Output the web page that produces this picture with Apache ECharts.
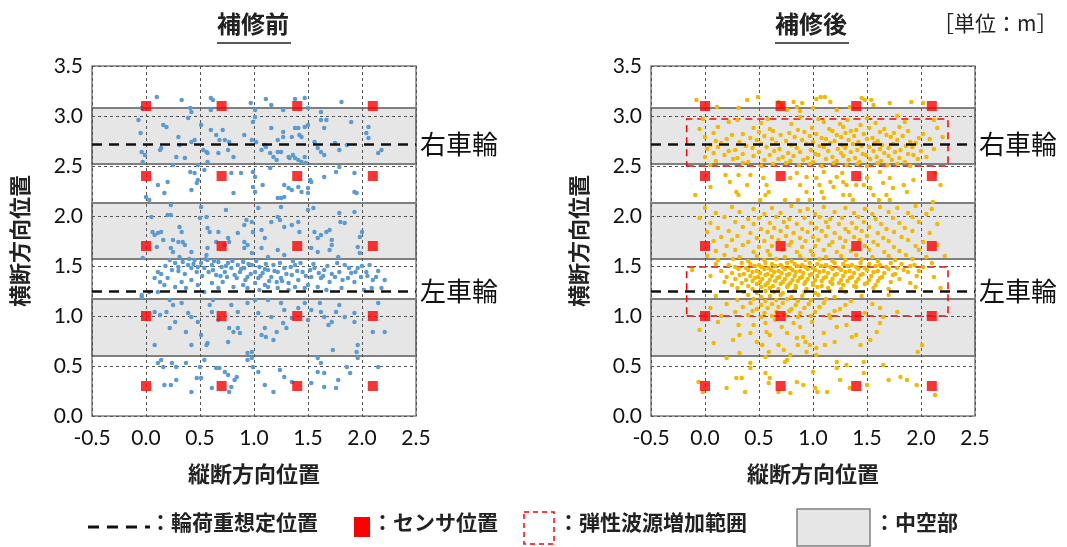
<!DOCTYPE html>
<html><head><meta charset="utf-8">
<script src="https://cdn.jsdelivr.net/npm/echarts@6/dist/echarts.min.js"></script>
<style>html,body{margin:0;padding:0;background:#fff}#c{width:1067px;height:547px}</style>
</head><body><div id="c"></div>
<script>
// ---- data ----
const xTicks = [-0.5, 0, 0.5, 1.0, 1.5, 2.0, 2.5];
const yTicks = [0, 0.5, 1.0, 1.5, 2.0, 2.5, 3.0, 3.5];
const sensorX = [0, 0.7, 1.4, 2.1];
const sensorY = [0.3, 1.0, 1.7, 2.4, 3.1];
const hollowBands = [[0.60, 1.17], [1.57, 2.13], [2.52, 3.08]];
const wheelLines = [{ y: 2.72, name: '右車輪' }, { y: 1.25, name: '左車輪' }];
const increaseRanges = [[-0.17, 2.25, 1.0, 1.49], [-0.17, 2.25, 2.5, 2.97]];
const chartTitles = ['補修前', '補修後'];

const beforePoints = [
[0.10,3.19],[0.33,3.16],[0.60,3.18],[0.62,3.16],[0.60,3.06],[0.41,3.08],[0.97,3.13],[1.01,3.06],[1.11,3.17],[1.16,3.11],[1.27,3.06],[1.38,3.17],[1.47,3.18],[1.50,3.08],[1.62,3.04],[1.81,3.14],[-0.04,3.08],
[-0.07,2.96],[0.16,2.91],[0.19,2.89],[0.39,2.98],[0.42,3.04],[0.51,2.91],[0.60,2.86],[0.65,2.81],[0.71,2.86],[0.68,2.76],[0.73,2.76],[0.77,2.74],[1.01,2.99],[0.99,2.94],[0.98,2.76],[1.02,2.74],[1.16,2.88],[1.27,2.84],[1.27,2.79],[1.38,2.88],[1.41,2.88],[1.47,2.89],[1.50,2.91],[1.42,2.81],[1.44,2.79],[1.22,2.76],[1.35,2.79],[1.62,2.96],[1.67,2.96],[1.65,2.88],[1.90,2.94],[2.06,2.89],[2.04,2.83],[2.06,2.78],
[-0.05,2.83],[-0.04,2.64],[-0.01,2.61],[-0.03,2.54],[0.13,2.66],[0.14,2.68],[0.30,2.79],[0.31,2.71],[0.28,2.59],[0.36,2.58],[0.42,2.74],[0.45,2.76],[0.53,2.66],[0.56,2.64],[0.57,2.63],[0.57,2.54],[0.67,2.63],[0.76,2.66],[0.81,2.59],[0.91,2.81],[1.07,2.66],[1.10,2.71],[1.11,2.69],[1.15,2.63],[1.18,2.59],[1.21,2.56],[1.22,2.64],[1.25,2.64],[1.32,2.59],[1.33,2.58],[1.36,2.61],[1.38,2.58],[1.41,2.56],[1.44,2.54],[1.47,2.59],[1.48,2.53],[1.56,2.74],[1.59,2.68],[1.62,2.64],[1.65,2.61],[1.75,2.73],[1.79,2.66],[1.86,2.71],[2.18,2.66],[2.15,2.63],[0.25,2.51],[0.48,2.51],
[0.41,2.44],[0.45,2.43],[0.48,2.36],[0.47,2.33],[0.42,2.26],[0.11,2.31],[0.20,2.34],[0.17,2.23],[0.00,2.19],[0.03,2.16],[0.54,2.46],[0.79,2.43],[0.81,2.23],[0.88,2.43],[0.99,2.44],[1.01,2.39],[0.99,2.29],[1.01,2.24],[1.08,2.31],[1.15,2.48],[1.22,2.18],[1.25,2.18],[1.28,2.19],[1.28,2.31],[1.32,2.28],[1.35,2.26],[1.41,2.29],[1.44,2.24],[1.50,2.23],[1.50,2.28],[1.52,2.36],[1.53,2.34],[1.65,2.39],[1.76,2.44],[1.79,2.49],[1.93,2.43],[1.93,2.24],[1.95,2.23],
[0.05,1.99],[0.06,1.84],[0.08,1.81],[0.11,1.83],[0.14,1.84],[0.16,1.76],[0.20,2.01],[0.23,2.01],[0.31,1.89],[0.33,1.84],[0.34,1.74],[0.36,1.71],[0.23,2.11],[0.51,2.09],[0.50,1.98],[0.56,1.99],[0.57,1.88],[0.67,1.84],[0.74,2.06],[0.76,1.78],[0.77,1.74],[0.73,1.71],[0.85,1.83],[0.91,1.91],[0.93,1.96],[0.98,1.94],[0.99,1.84],[1.04,2.08],[1.07,1.86],[1.10,1.78],[1.16,1.94],[1.22,1.99],[1.24,1.96],[1.25,2.09],[1.28,1.89],[1.35,1.91],[1.41,1.94],[1.42,1.84],[1.50,2.06],[1.55,2.08],[1.56,1.84],[1.59,1.78],[1.62,1.81],[1.67,1.84],[1.72,1.71],[1.79,2.03],[1.80,1.94],[1.84,1.93],[1.93,2.04],[2.00,1.84],[1.98,1.79],[1.72,1.76],[1.70,1.86],[0.25,1.76],[0.30,1.74],[0.59,1.84],[0.65,1.74],[0.91,1.74],[0.94,1.71],
[0.10,1.69],[0.23,1.68],[0.25,1.64],[0.42,1.64],[0.31,1.59],[0.57,1.68],[0.56,1.61],[0.91,1.68],[0.98,1.63],[1.07,1.68],[1.13,1.59],[1.22,1.66],[1.28,1.61],[1.53,1.68],[1.59,1.64],[1.70,1.66],[1.78,1.59],[1.96,1.69],[1.98,1.63],[-0.03,1.58],
[0.22,1.56],[0.27,1.53],[0.30,1.49],[0.34,1.54],[0.39,1.51],[0.42,1.48],[0.45,1.56],[0.47,1.44],[0.48,1.49],[0.51,1.53],[0.54,1.48],[0.57,1.56],[0.61,1.51],[0.62,1.46],[0.65,1.41],[0.67,1.54],[0.70,1.49],[0.73,1.44],[0.76,1.53],[0.79,1.48],[0.82,1.41],[0.85,1.51],[0.87,1.44],[0.90,1.54],[0.91,1.48],[0.94,1.39],[0.98,1.51],[1.01,1.44],[1.04,1.38],[1.05,1.49],[1.08,1.43],[1.10,1.31],[1.13,1.46],[1.16,1.39],[1.18,1.51],[1.21,1.34],[1.22,1.44],[1.25,1.38],[1.28,1.48],[1.32,1.33],[1.35,1.41],[1.38,1.51],[1.41,1.36],[1.45,1.44],[1.50,1.31],[1.53,1.39],[1.56,1.48],[1.62,1.38],[1.65,1.46],[1.70,1.34],[1.75,1.39],[1.79,1.44],[1.84,1.51],[1.87,1.38],[1.90,1.43],[1.93,1.34],[1.96,1.48],[1.99,1.39],[2.04,1.44],[2.07,1.51],[2.10,1.36],[2.13,1.39],[2.21,1.36],[2.18,1.28],
[0.11,1.44],[0.13,1.34],[0.08,1.38],[0.17,1.31],[0.20,1.38],[0.27,1.29],[0.33,1.34],[0.37,1.28],[0.42,1.36],[0.48,1.31],[0.54,1.24],[0.61,1.33],[0.67,1.28],[0.71,1.34],[0.81,1.29],[0.90,1.31],[0.94,1.28],[1.01,1.33],[1.05,1.26],[1.13,1.29],[1.22,1.28],[1.32,1.26],[1.38,1.29],[1.47,1.28],[1.59,1.29],[1.67,1.26],[1.81,1.28],[2.02,1.26],[2.09,1.28],[0.11,1.24],[-0.04,1.21],[0.03,1.24],
[0.30,1.45],[0.36,1.42],[0.44,1.52],[0.52,1.40],[0.58,1.44],[0.63,1.55],[0.69,1.40],[0.74,1.50],[0.80,1.55],[0.84,1.38],[0.88,1.47],[0.95,1.52],[0.97,1.42],[1.02,1.55],[1.06,1.40],[1.11,1.52],[1.14,1.35],[1.19,1.45],[1.24,1.53],[1.30,1.42],[1.34,1.49],[1.40,1.45],[1.43,1.53],[1.48,1.40],[1.55,1.52],[1.60,1.43],[1.68,1.50],[1.72,1.42],[1.77,1.53],[1.82,1.36],[1.88,1.48],[1.94,1.44],[2.00,1.50],[2.05,1.40],[2.15,1.45],[0.24,1.46],[0.18,1.50],[0.14,1.42],[0.40,1.57],[0.55,1.57],[0.75,1.39],[0.92,1.36],[1.10,1.47],[1.26,1.35],[1.36,1.55],[1.52,1.46],[1.64,1.40],
[-0.04,1.19],[0.08,1.04],[0.13,1.01],[0.22,1.16],[0.25,1.11],[0.33,1.13],[0.39,1.03],[0.42,0.99],[0.27,0.94],[0.22,0.88],[0.37,0.84],[0.08,0.71],[0.42,0.71],[0.51,0.81],[0.56,0.71],[0.57,0.73],[0.59,1.11],[0.62,1.16],[0.61,1.04],[0.67,0.96],[0.77,0.88],[0.81,0.84],[0.85,0.88],[0.87,0.83],[0.76,0.74],[0.79,1.11],[0.85,1.04],[0.94,1.13],[1.01,1.16],[1.04,1.03],[1.07,0.81],[1.11,0.79],[1.18,0.76],[0.98,0.64],[0.94,0.63],[1.13,1.16],[1.25,1.13],[1.28,1.06],[1.27,0.93],[1.30,0.88],[1.21,0.84],[1.35,0.98],[1.41,1.08],[1.47,1.13],[1.53,1.06],[1.61,1.13],[1.62,1.04],[1.65,0.99],[1.69,0.91],[1.72,0.94],[1.76,1.04],[1.79,1.11],[1.84,0.99],[1.93,1.03],[1.93,0.94],[1.96,0.71],[1.95,0.64],[2.10,0.84],[2.21,0.84],[2.15,1.13],[1.73,0.66],[1.50,0.96],[1.16,0.99],[1.10,0.88],[0.19,1.04],[0.48,0.94],
[0.14,0.56],[0.11,0.53],[0.16,0.49],[0.24,0.53],[0.28,0.49],[0.37,0.53],[0.54,0.56],[0.50,0.49],[0.51,0.38],[0.47,0.38],[0.42,0.24],[0.17,0.31],[0.23,0.31],[0.28,0.36],[0.61,0.28],[0.65,0.48],[0.68,0.48],[0.73,0.44],[0.76,0.41],[0.77,0.24],[0.79,0.29],[0.82,0.36],[0.84,0.39],[0.94,0.56],[0.99,0.49],[1.04,0.44],[1.10,0.31],[1.18,0.24],[1.24,0.46],[1.28,0.39],[1.35,0.34],[1.53,0.33],[1.59,0.58],[1.62,0.53],[1.59,0.44],[1.65,0.43],[1.65,0.29],[1.76,0.28],[1.78,0.36],[1.86,0.49],[1.89,0.43],[1.96,0.58],[2.15,0.49],[0.98,0.58]
];

const afterPoints = [
[-0.08,3.16],[0.39,3.16],[0.49,3.19],[0.68,3.14],[0.71,3.11],[0.82,3.14],[0.85,3.09],[0.90,3.13],[1.03,3.17],[1.07,3.19],[1.11,3.19],[1.16,3.14],[1.22,3.06],[1.34,3.09],[1.45,3.18],[1.48,3.16],[1.54,3.16],[1.56,3.11],[1.71,3.13],[1.91,3.14],[2.02,3.13],[0.31,3.08],[0.11,3.09],[1.00,3.08],[0.76,3.06],[0.88,3.05],
[-0.02,2.97],[0.30,2.96],[0.58,2.97],[0.88,2.99],[1.05,2.97],[1.32,2.96],[1.50,2.98],[1.78,3.00],[2.12,2.96],
[0.22,2.94],[0.52,2.93],[0.80,2.92],[1.10,2.94],[1.25,2.92],[1.44,2.91],[1.58,2.93],[1.85,2.94],
[-0.05,2.87],[0.12,2.89],[0.45,2.88],[0.60,2.87],[0.86,2.86],[0.99,2.88],[1.15,2.87],[1.28,2.89],[1.40,2.86],[1.52,2.88],[1.66,2.87],[1.80,2.89],[2.15,2.88],
[0.08,2.83],[0.35,2.82],[0.50,2.84],[0.63,2.85],[0.78,2.83],[0.92,2.84],[1.03,2.82],[1.18,2.85],[1.30,2.83],[1.35,2.85],[1.47,2.82],[1.62,2.84],[1.75,2.83],[1.88,2.85],[2.02,2.82],
[0.00,2.79],[0.25,2.81],[0.42,2.78],[0.55,2.80],[0.70,2.81],[0.83,2.79],[0.97,2.80],[1.08,2.78],[1.22,2.81],[1.26,2.79],[1.38,2.80],[1.55,2.78],[1.68,2.81],[1.72,2.79],[1.83,2.80],[1.98,2.78],[2.20,2.79],
[0.10,2.75],[0.20,2.77],[0.32,2.74],[0.48,2.76],[0.62,2.77],[0.75,2.75],[0.90,2.76],[1.00,2.74],[1.12,2.77],[1.20,2.75],[1.33,2.76],[1.42,2.74],[1.50,2.77],[1.60,2.75],[1.78,2.76],[1.90,2.74],[2.08,2.77],
[0.05,2.71],[0.15,2.73],[0.38,2.70],[0.52,2.72],[0.66,2.73],[0.80,2.71],[0.94,2.72],[1.06,2.70],[1.16,2.73],[1.27,2.71],[1.37,2.72],[1.45,2.70],[1.57,2.73],[1.64,2.71],[1.74,2.72],[1.86,2.70],[1.95,2.73],
[0.02,2.67],[0.12,2.69],[0.28,2.66],[0.44,2.68],[0.57,2.69],[0.69,2.67],[0.85,2.68],[0.98,2.66],[1.10,2.69],[1.23,2.67],[1.30,2.68],[1.41,2.66],[1.52,2.69],[1.62,2.67],[1.70,2.68],[1.81,2.66],[1.92,2.69],[2.12,2.67],
[0.08,2.63],[0.22,2.65],[0.35,2.62],[0.50,2.64],[0.64,2.65],[0.77,2.63],[0.88,2.64],[1.02,2.62],[1.14,2.65],[1.26,2.63],[1.35,2.64],[1.46,2.62],[1.56,2.65],[1.66,2.63],[1.76,2.64],[1.88,2.62],[2.00,2.65],
[0.00,2.59],[0.18,2.61],[0.30,2.58],[0.45,2.60],[0.60,2.61],[0.72,2.59],[0.82,2.60],[0.95,2.58],[1.05,2.61],[1.18,2.59],[1.28,2.60],[1.39,2.58],[1.49,2.61],[1.59,2.59],[1.70,2.60],[1.80,2.58],[1.93,2.61],[2.05,2.59],
[0.10,2.55],[0.26,2.57],[0.40,2.54],[0.55,2.56],[0.68,2.57],[0.79,2.55],[0.91,2.56],[1.00,2.54],[1.12,2.57],[1.22,2.55],[1.33,2.56],[1.43,2.54],[1.53,2.57],[1.63,2.55],[1.73,2.56],[1.85,2.54],[1.97,2.57],
[0.05,2.51],[0.35,2.53],[0.52,2.50],[0.63,2.52],[0.75,2.53],[0.87,2.51],[0.97,2.52],[1.08,2.50],[1.19,2.53],[1.31,2.51],[1.41,2.52],[1.50,2.50],[1.60,2.53],[1.69,2.51],[1.78,2.52],[1.90,2.50],
[-0.09,2.21],[0.05,2.29],[0.19,2.41],[0.23,2.34],[0.31,2.41],[0.29,2.24],[0.31,2.21],[0.39,2.31],[0.42,2.41],[0.54,2.38],[0.56,2.21],[0.59,2.24],[0.51,2.16],[0.79,2.38],[0.85,2.43],[0.88,2.31],[0.86,2.16],[0.94,2.24],[1.03,2.38],[1.06,2.31],[1.08,2.24],[1.10,2.18],[1.16,2.34],[1.19,2.29],[1.22,2.39],[1.27,2.43],[1.28,2.34],[1.31,2.31],[1.34,2.21],[1.37,2.16],[1.47,2.31],[1.50,2.38],[1.53,2.28],[1.56,2.21],[1.61,2.16],[1.62,2.44],[1.65,2.33],[1.68,2.21],[1.71,2.38],[1.74,2.28],[1.84,2.31],[1.87,2.24],[1.93,2.36],[2.11,2.14],[2.18,2.31],[2.13,2.43],[1.71,2.16],[1.40,2.31],[1.28,2.21],[0.97,2.16],[0.74,2.16],[0.57,2.31],[1.10,2.44],[0.94,2.39],
[0.00,2.08],[0.25,2.09],[0.45,2.07],[0.62,2.08],[0.80,2.10],[0.95,2.07],[1.10,2.09],[1.30,2.08],[1.48,2.07],[1.62,2.09],[1.78,2.08],[1.95,2.10],[2.10,2.07],
[0.10,2.03],[0.32,2.04],[0.55,2.02],[0.70,2.03],[0.88,2.05],[1.02,2.02],[1.20,2.04],[1.38,2.03],[1.55,2.02],[1.70,2.04],[1.88,2.03],[2.05,2.02],
[-0.05,1.98],[0.18,1.99],[0.40,1.97],[0.50,1.98],[0.66,1.99],[0.78,1.97],[0.92,1.98],[1.06,1.99],[1.16,1.97],[1.27,1.98],[1.42,1.99],[1.58,1.97],[1.74,1.98],[1.92,1.99],
[0.05,1.93],[0.28,1.94],[0.45,1.92],[0.60,1.93],[0.73,1.94],[0.85,1.92],[0.98,1.93],[1.12,1.94],[1.24,1.92],[1.36,1.93],[1.47,1.94],[1.63,1.92],[1.80,1.93],[1.98,1.94],[2.15,1.92],
[0.12,1.88],[0.35,1.89],[0.52,1.87],[0.64,1.88],[0.76,1.89],[0.90,1.87],[1.03,1.88],[1.14,1.89],[1.30,1.87],[1.40,1.88],[1.52,1.89],[1.68,1.87],[1.85,1.88],
[0.02,1.84],[0.22,1.85],[0.42,1.83],[0.58,1.84],[0.70,1.85],[0.82,1.83],[0.95,1.84],[1.08,1.85],[1.20,1.83],[1.33,1.84],[1.45,1.85],[1.60,1.83],[1.75,1.84],[1.92,1.85],[2.08,1.83],
[0.15,1.79],[0.30,1.80],[0.48,1.78],[0.62,1.79],[0.75,1.80],[0.88,1.78],[1.00,1.79],[1.12,1.80],[1.25,1.78],[1.38,1.79],[1.50,1.80],[1.65,1.78],[1.82,1.79],
[0.08,1.75],[0.25,1.76],[0.40,1.74],[0.55,1.75],[0.68,1.76],[0.80,1.74],[0.93,1.75],[1.05,1.76],[1.18,1.74],[1.30,1.75],[1.43,1.76],[1.56,1.74],[1.70,1.75],[1.88,1.76],[2.02,1.74],
[0.20,1.70],[0.35,1.71],[0.50,1.69],[0.62,1.70],[0.78,1.71],[0.90,1.69],[1.02,1.70],[1.15,1.71],[1.28,1.69],[1.48,1.70],[1.60,1.71],[1.75,1.69],[1.95,1.70],[2.15,1.71],
[0.10,1.65],[0.28,1.66],[0.45,1.64],[0.58,1.65],[0.72,1.66],[0.85,1.64],[0.98,1.65],[1.10,1.66],[1.22,1.64],[1.35,1.65],[1.52,1.66],[1.66,1.64],[1.80,1.65],[1.98,1.66],
[0.02,1.60],[0.18,1.61],[0.32,1.59],[0.48,1.60],[0.60,1.61],[0.74,1.59],[0.88,1.60],[1.00,1.61],[1.12,1.59],[1.26,1.60],[1.40,1.61],[1.55,1.59],[1.70,1.60],[1.86,1.61],[2.05,1.59],[2.22,1.60],
[0.12,1.56],[0.26,1.57],[0.40,1.55],[0.55,1.56],[0.66,1.57],[0.80,1.55],[0.93,1.56],[1.06,1.57],[1.18,1.55],[1.30,1.56],[1.45,1.57],[1.60,1.55],[1.76,1.56],[1.92,1.57],
[0.10,1.52],[0.22,1.51],[0.34,1.53],[0.42,1.52],[0.50,1.51],[0.56,1.53],[0.62,1.52],[0.70,1.51],[0.76,1.53],[0.83,1.52],[0.90,1.51],[0.97,1.53],[1.04,1.52],[1.12,1.51],[1.20,1.53],[1.28,1.52],[1.36,1.51],[1.44,1.53],[1.52,1.52],[1.62,1.51],[1.72,1.53],[1.82,1.52],[1.94,1.51],[2.10,1.53],
[0.28,1.49],[0.38,1.48],[0.46,1.50],[0.52,1.49],[0.59,1.48],[0.65,1.50],[0.72,1.49],[0.79,1.48],[0.86,1.50],[0.93,1.49],[1.00,1.48],[1.08,1.50],[1.16,1.49],[1.24,1.48],[1.32,1.50],[1.40,1.49],[1.48,1.48],[1.58,1.50],[1.68,1.49],[1.78,1.48],[1.90,1.50],[2.02,1.49],
[-0.12,1.46],[0.15,1.45],[0.31,1.47],[0.40,1.46],[0.48,1.45],[0.55,1.47],[0.61,1.46],[0.68,1.45],[0.74,1.47],[0.81,1.46],[0.88,1.45],[0.95,1.47],[1.02,1.46],[1.10,1.45],[1.18,1.47],[1.26,1.46],[1.34,1.45],[1.42,1.47],[1.50,1.46],[1.60,1.45],[1.70,1.47],[1.84,1.46],[1.98,1.45],
[0.25,1.43],[0.36,1.42],[0.44,1.44],[0.51,1.43],[0.58,1.42],[0.64,1.44],[0.71,1.43],[0.78,1.42],[0.84,1.44],[0.91,1.43],[0.99,1.42],[1.06,1.44],[1.14,1.43],[1.22,1.42],[1.30,1.44],[1.38,1.43],[1.46,1.42],[1.56,1.44],[1.66,1.43],[1.76,1.42],[1.88,1.44],
[0.05,1.40],[0.20,1.39],[0.32,1.41],[0.42,1.40],[0.49,1.39],[0.56,1.41],[0.62,1.40],[0.69,1.39],[0.76,1.41],[0.83,1.40],[0.90,1.39],[0.97,1.41],[1.04,1.40],[1.12,1.39],[1.20,1.41],[1.28,1.40],[1.36,1.39],[1.44,1.41],[1.54,1.40],[1.64,1.39],[1.74,1.41],[1.96,1.40],[2.12,1.39],
[0.28,1.37],[0.38,1.36],[0.46,1.38],[0.53,1.37],[0.60,1.36],[0.67,1.38],[0.74,1.37],[0.81,1.36],[0.88,1.38],[0.95,1.37],[1.02,1.36],[1.10,1.38],[1.18,1.37],[1.26,1.36],[1.34,1.38],[1.42,1.37],[1.52,1.36],[1.62,1.38],[1.80,1.37],
[0.18,1.34],[0.34,1.33],[0.44,1.35],[0.51,1.34],[0.58,1.33],[0.65,1.35],[0.72,1.34],[0.79,1.33],[0.86,1.35],[0.93,1.34],[1.00,1.33],[1.08,1.35],[1.16,1.34],[1.24,1.33],[1.32,1.35],[1.40,1.34],[1.50,1.33],[1.60,1.35],[1.72,1.34],[1.90,1.33],
[0.25,1.31],[0.40,1.30],[0.48,1.32],[0.56,1.31],[0.63,1.30],[0.70,1.32],[0.77,1.31],[0.84,1.30],[0.92,1.32],[1.00,1.31],[1.08,1.30],[1.18,1.32],[1.28,1.31],[1.38,1.30],[1.48,1.32],[1.58,1.31],
[0.30,1.28],[0.44,1.27],[0.52,1.29],[0.60,1.28],[0.68,1.27],[0.76,1.29],[0.84,1.28],[0.94,1.27],[1.04,1.29],[1.14,1.28],[1.26,1.27],[1.40,1.29],[1.56,1.28],[1.70,1.27],[1.95,1.29],[2.18,1.28],
[0.36,1.24],[0.48,1.23],[0.56,1.25],[0.64,1.24],[0.72,1.23],[0.82,1.25],[0.92,1.24],[1.02,1.23],[1.16,1.25],[1.30,1.24],
[0.10,1.20],[0.40,1.21],[0.52,1.19],[0.60,1.20],[0.70,1.21],[0.80,1.19],[0.90,1.20],[1.05,1.21],[1.20,1.19],[1.45,1.20],[1.70,1.21],
[0.30,1.16],[0.45,1.17],[0.56,1.15],[0.66,1.16],[0.76,1.17],[0.86,1.15],[0.98,1.16],[1.12,1.17],[1.35,1.15],
[0.20,1.12],[0.42,1.13],[0.52,1.11],[0.62,1.12],[0.72,1.13],[0.84,1.11],[0.96,1.12],[1.10,1.13],[1.30,1.11],[1.55,1.12],
[0.05,1.08],[0.35,1.09],[0.48,1.07],[0.58,1.08],[0.68,1.09],[0.80,1.07],[0.92,1.08],[1.06,1.09],[1.25,1.07],[1.62,1.08],
[0.28,1.04],[0.44,1.05],[0.55,1.03],[0.66,1.04],[0.78,1.05],[0.88,1.03],[1.02,1.04],[1.20,1.05],[1.48,1.03],[1.78,1.04],
[0.15,1.00],[0.40,1.01],[0.52,0.99],[0.62,1.00],[0.74,1.01],[0.86,0.99],[0.98,1.00],[1.15,1.01],
[-0.05,0.86],[0.08,0.73],[0.12,0.94],[0.20,0.58],[0.31,0.91],[0.32,0.81],[0.32,0.63],[0.42,0.83],[0.45,0.91],[0.48,0.74],[0.53,0.71],[0.56,0.59],[0.57,0.84],[0.60,0.81],[0.65,0.96],[0.68,0.71],[0.73,0.66],[0.74,0.54],[0.76,0.83],[0.82,0.93],[0.85,0.78],[0.86,0.71],[0.91,0.79],[0.93,0.74],[0.97,0.71],[0.99,0.94],[1.03,0.68],[1.10,0.83],[1.11,0.71],[1.20,0.74],[1.22,0.89],[1.31,0.91],[1.36,0.79],[1.40,0.81],[1.44,0.71],[1.53,0.76],[1.59,0.84],[1.62,0.93],[1.65,0.99],[1.97,0.64],[2.01,0.71],[0.88,0.89],[0.71,0.89],[0.56,0.93],[0.26,0.76],[1.16,0.98],[0.94,0.64],[0.59,0.64],[0.79,0.61],[1.03,0.61],
[0.76,0.56],[0.42,0.48],[0.56,0.43],[0.60,0.38],[0.59,0.33],[0.20,0.28],[0.29,0.38],[0.34,0.38],[0.37,0.24],[-0.06,0.34],[0.85,0.34],[1.00,0.44],[1.02,0.28],[1.04,0.24],[0.91,0.31],[1.13,0.24],[1.22,0.48],[1.25,0.36],[1.31,0.51],[1.47,0.43],[1.50,0.31],[1.34,0.28],[1.70,0.36],[1.81,0.39],[1.87,0.36],[1.96,0.31],[2.13,0.21],[1.65,0.51],[1.22,0.54],[1.47,0.54],[0.79,0.23],[0.68,0.24],[0.42,0.53],[-0.02,0.24]
];

// ---- chart ----
const FONT = "Lato, 'Noto Sans CJK JP', sans-serif";
const JFONT = "'Noto Sans CJK JP', sans-serif";
const sensorPoints = [];
sensorX.forEach(x => sensorY.forEach(y => sensorPoints.push([x, y])));
const grids = [{ left: 92, top: 66, width: 324, height: 350 }, { left: 651, top: 66, width: 324, height: 350 }];

function axisX(i) {
  return {
    type: 'value', gridIndex: i, min: -0.5, max: 2.5, interval: 0.5, z: 3,
    name: '縦断方向位置', nameLocation: 'middle', nameGap: 47,
    nameTextStyle: { fontFamily: JFONT, fontSize: 22, fontWeight: 'bold', color: '#222' },
    axisLine: { show: false }, axisTick: { show: false },
    axisLabel: { formatter: v => v.toFixed(1), fontFamily: FONT, fontSize: 21, color: '#111', margin: 12 },
    splitLine: { show: true, lineStyle: { color: '#555', width: 1, type: [3, 3] } }
  };
}
function axisY(i) {
  return {
    type: 'value', gridIndex: i, min: 0, max: 3.5, interval: 0.5, z: 3,
    name: '横断方向位置', nameLocation: 'middle', nameGap: 61, nameRotate: 90,
    nameTextStyle: { fontFamily: JFONT, fontSize: 22, fontWeight: 'bold', color: '#222' },
    axisLine: { show: false }, axisTick: { show: false },
    axisLabel: { formatter: v => v.toFixed(1), fontFamily: FONT, fontSize: 21, color: '#111', margin: 9 },
    splitLine: { show: true, lineStyle: { color: '#555', width: 1, type: [3, 3] } }
  };
}

const series = [];
[0, 1].forEach(i => {
  series.push({
    type: 'scatter', xAxisIndex: i, yAxisIndex: i, data: [], z: 1, silent: true,
    markArea: {
      silent: true,
      itemStyle: { color: '#e6e6e6', borderColor: '#7f7f7f', borderWidth: 2 },
      data: hollowBands.map(b => [{ xAxis: -0.5, yAxis: b[0] }, { xAxis: 2.5, yAxis: b[1] }])
    }
  });
  series.push({
    type: 'scatter', xAxisIndex: i, yAxisIndex: i, z: 4, symbolSize: i === 0 ? 4.5 : 4.5,
    itemStyle: { color: i === 0 ? '#5b9bd5' : '#f5b800', opacity: 1 },
    data: i === 0 ? beforePoints : afterPoints, silent: true
  });
  if (i === 1) {
    series.push({
      type: 'scatter', xAxisIndex: i, yAxisIndex: i, data: [], z: 5, silent: true,
      markArea: {
        silent: true,
        itemStyle: { color: 'rgba(0,0,0,0)', borderColor: '#ff0000', borderWidth: 1.5, borderType: [7, 5] },
        data: increaseRanges.map(r => [{ xAxis: r[0], yAxis: r[2] }, { xAxis: r[1], yAxis: r[3] }])
      }
    });
  }
  series.push({
    type: 'scatter', xAxisIndex: i, yAxisIndex: i, data: [], z: 6, silent: true,
    markLine: {
      silent: true, symbol: 'none', animation: false,
      lineStyle: { color: '#111', width: 2.5, type: [10, 7] },
      label: { show: true, position: 'end', distance: 4, formatter: p => p.name, fontFamily: JFONT, fontSize: 26, color: '#111' },
      data: wheelLines.map(w => ({ yAxis: w.y, name: w.name }))
    }
  });
  series.push({
    type: 'scatter', xAxisIndex: i, yAxisIndex: i, z: 7, symbol: 'rect', symbolSize: 10,
    itemStyle: { color: '#ff0000' }, data: sensorPoints, silent: true
  });
});

const titleCenters = [254, 812];
const graphic = [];
chartTitles.forEach((t, i) => {
  graphic.push({ type: 'text', left: titleCenters[i] - 37, top: 12, style: { text: t, font: "bold 24px 'Noto Sans CJK JP'", fill: '#222' } });
  graphic.push({ type: 'line', shape: { x1: titleCenters[i] - 37, y1: 43, x2: titleCenters[i] + 37, y2: 43 }, style: { stroke: '#222', lineWidth: 1.5 } });
});
graphic.push({ type: 'text', left: 933, top: 13, style: { text: '［単位：m］', font: "21px 'Noto Sans CJK JP'", fill: '#222' } });
// legend
const LY = 527;
const LFONT = "bold 21px 'Noto Sans CJK JP'";
graphic.push({ type: 'line', shape: { x1: 88, y1: LY, x2: 150, y2: LY }, style: { stroke: '#111', lineWidth: 3, lineDash: [11, 8] } });
graphic.push({ type: 'text', left: 150, top: LY - 15, style: { text: '：輪荷重想定位置', font: LFONT, fill: '#222' } });
graphic.push({ type: 'rect', shape: { x: 354, y: LY - 10, width: 16, height: 20 }, style: { fill: '#ff0000' } });
graphic.push({ type: 'text', left: 372, top: LY - 15, style: { text: '：センサ位置', font: LFONT, fill: '#222' } });
graphic.push({ type: 'rect', shape: { x: 524, y: LY - 15, width: 30, height: 32 }, style: { fill: 'none', stroke: '#ff0000', lineWidth: 1.5, lineDash: [5, 4] } });
graphic.push({ type: 'text', left: 558, top: LY - 15, style: { text: '：弾性波源増加範囲', font: LFONT, fill: '#222' } });
graphic.push({ type: 'rect', shape: { x: 797, y: LY - 18, width: 73, height: 37 }, style: { fill: '#e6e6e6', stroke: '#808080', lineWidth: 1.5 } });
graphic.push({ type: 'text', left: 874, top: LY - 15, style: { text: '：中空部', font: LFONT, fill: '#222' } });

const chart = echarts.init(document.getElementById('c'), null, { renderer: 'canvas' });
chart.setOption({
  animation: false,
  backgroundColor: '#fff',
  grid: grids.map(g => Object.assign({ show: true, borderColor: '#7f7f7f', borderWidth: 1.5, backgroundColor: 'transparent' }, g)),
  xAxis: [axisX(0), axisX(1)],
  yAxis: [axisY(0), axisY(1)],
  series: series,
  graphic: graphic
});
</script></body></html>
